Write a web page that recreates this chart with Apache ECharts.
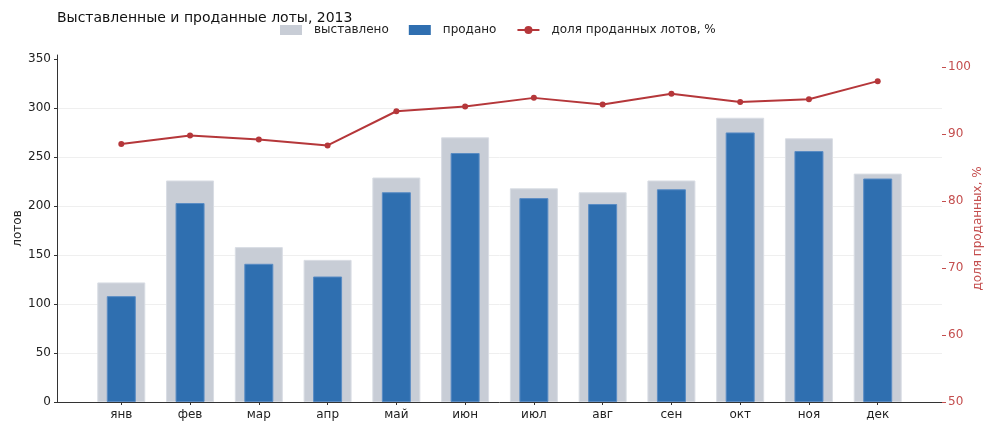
<!DOCTYPE html>
<html>
<head>
<meta charset="utf-8">
<script src="https://cdn.jsdelivr.net/npm/echarts@6/dist/echarts.min.js"></script>
<style>
  html, body { margin: 0; padding: 0; background: #fff; }
  #chart { width: 1000px; height: 433px; }
</style>
</head>
<body>
<div id="chart"></div>
<script>
const months = ['янв', 'фев', 'мар', 'апр', 'май', 'июн', 'июл', 'авг', 'сен', 'окт', 'ноя', 'дек']
const listed = [122, 226, 158, 145, 229, 270, 218, 214, 226, 290, 269, 233]
const sold = [108, 203, 141, 128, 214, 254, 208, 202, 217, 275, 256, 228]
const soldShare = [88.5, 89.8, 89.2, 88.3, 93.4, 94.1, 95.4, 94.4, 96.0, 94.8, 95.2, 97.9]
const leftTicks = [0, 50, 100, 150, 200, 250, 300, 350]
const rightTicks = [50, 60, 70, 80, 90, 100]

const font = 'DejaVu Sans'
const grayBar = '#c8cdd6'
const blueBar = '#2f6fb0'
const red = '#b5373a'
const redText = '#c44e4e'
const axisDark = '#333333'

const idx = months.map((_, i) => i)
const pairs = (arr) => arr.map((v, i) => [i, v])

const chart = echarts.init(document.getElementById('chart'), null, { renderer: 'canvas' })

chart.setOption({
  backgroundColor: '#ffffff',
  animation: false,
  textStyle: { fontFamily: font },
  title: {
    text: 'Выставленные и проданные лоты, 2013',
    left: 52,
    top: 6,
    textStyle: { fontFamily: font, fontSize: 14, fontWeight: 'normal', color: '#111' }
  },
  legend: {
    left: 275,
    top: 19,
    itemWidth: 22,
    itemHeight: 10,
    itemGap: 20,
    textStyle: { fontFamily: font, fontSize: 12, color: '#222', padding: [0, 0, 0, 7] },
    data: [
      { name: 'выставлено', icon: 'rect', itemStyle: { borderWidth: 0 } },
      { name: 'продано', icon: 'rect', itemStyle: { borderWidth: 0 } },
      { name: 'доля проданных лотов, %' }
    ]
  },
  grid: { left: 57, right: 58, top: 55, bottom: 31, outerBoundsMode: 'none', containLabel: false },
  xAxis: [
    {
      type: 'value',
      min: -0.935,
      max: 11.935,
      axisLine: { show: true, onZero: false, lineStyle: { color: axisDark, width: 1 } },
      axisTick: { show: true, customValues: idx, length: 3, lineStyle: { color: axisDark } },
      axisLabel: {
        customValues: idx,
        formatter: (v) => months[Math.round(v)] ?? '',
        color: '#222',
        fontSize: 12,
        margin: 7,
        fontFamily: font
      },
      splitLine: { show: false }
    },
    {
      type: 'value',
      min: -0.935,
      max: 11.935,
      show: false
    }
  ],
  yAxis: [
    {
      type: 'value',
      min: 0,
      max: 354,
      interval: 50,
      name: 'лотов',
      nameLocation: 'middle',
      nameRotate: 90,
      nameGap: 33,
      nameMoveOverlap: false,
      nameTextStyle: { fontFamily: font, fontSize: 12, color: '#222' },
      axisLine: { show: true, onZero: false, lineStyle: { color: axisDark, width: 1 } },
      axisTick: { show: true, customValues: leftTicks, length: 3, lineStyle: { color: axisDark } },
      axisLabel: { customValues: leftTicks, color: '#222', fontSize: 12, margin: 6, fontFamily: font },
      splitLine: { show: true, showMaxLine: false, lineStyle: { color: '#efefef', width: 1 } }
    },
    {
      type: 'value',
      position: 'right',
      min: 50,
      max: 101.8,
      interval: 10,
      name: 'доля проданных, %',
      nameLocation: 'middle',
      nameRotate: 90,
      nameGap: 30,
      nameMoveOverlap: false,
      nameTextStyle: { fontFamily: font, fontSize: 12, color: redText },
      axisLine: { show: false, onZero: false },
      axisTick: { show: true, customValues: rightTicks, length: 4, lineStyle: { color: redText } },
      axisLabel: { customValues: rightTicks, color: redText, fontSize: 12, margin: 6, fontFamily: font },
      splitLine: { show: false }
    }
  ],
  series: [
    {
      name: 'выставлено',
      type: 'bar',
      xAxisIndex: 0,
      yAxisIndex: 0,
      barWidth: 48,
      data: pairs(listed),
      itemStyle: { color: grayBar, borderColor: '#d9dde4', borderWidth: 1 },
      z: 1
    },
    {
      name: 'продано',
      type: 'bar',
      xAxisIndex: 1,
      yAxisIndex: 0,
      barWidth: 29,
      data: pairs(sold),
      itemStyle: { color: blueBar, borderColor: '#5a8cc4', borderWidth: 1 },
      z: 2
    },
    {
      name: 'доля проданных лотов, %',
      type: 'line',
      xAxisIndex: 0,
      yAxisIndex: 1,
      data: pairs(soldShare),
      symbol: 'circle',
      symbolSize: 6,
      lineStyle: { color: red, width: 2 },
      itemStyle: { color: red },
      z: 5
    }
  ]
})
</script>
</body>
</html>
